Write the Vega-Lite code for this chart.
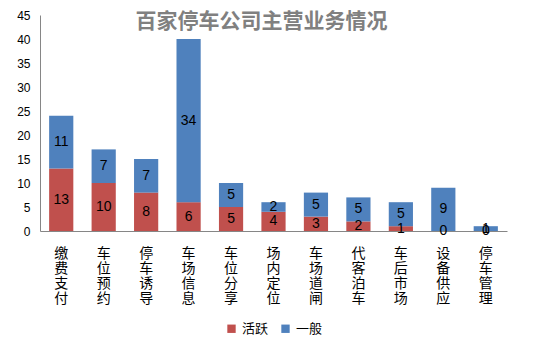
{
  "$schema": "https://vega.github.io/schema/vega-lite/v6.json",
  "autosize": "none",
  "width": 467,
  "height": 216,
  "padding": {"left": 40, "top": 15, "right": 34, "bottom": 120},
  "background": "white",
  "config": {"view": {"stroke": null}, "font": "Noto Sans CJK SC"},
  "title": {"text": "百家停车公司主营业务情况", "color": "#808080", "fontSize": 21, "fontWeight": "bold", "font": "Noto Sans CJK SC", "anchor": "middle", "offset": -23, "dx": -12},
  "data": {"values": [
    {"cat": "缴费支付", "type": "活跃", "ord": 1, "value": 13},
    {"cat": "缴费支付", "type": "一般", "ord": 2, "value": 11},
    {"cat": "车位预约", "type": "活跃", "ord": 1, "value": 10},
    {"cat": "车位预约", "type": "一般", "ord": 2, "value": 7},
    {"cat": "停车诱导", "type": "活跃", "ord": 1, "value": 8},
    {"cat": "停车诱导", "type": "一般", "ord": 2, "value": 7},
    {"cat": "车场信息", "type": "活跃", "ord": 1, "value": 6},
    {"cat": "车场信息", "type": "一般", "ord": 2, "value": 34},
    {"cat": "车位分享", "type": "活跃", "ord": 1, "value": 5},
    {"cat": "车位分享", "type": "一般", "ord": 2, "value": 5},
    {"cat": "场内定位", "type": "活跃", "ord": 1, "value": 4},
    {"cat": "场内定位", "type": "一般", "ord": 2, "value": 2},
    {"cat": "车场道闸", "type": "活跃", "ord": 1, "value": 3},
    {"cat": "车场道闸", "type": "一般", "ord": 2, "value": 5},
    {"cat": "代客泊车", "type": "活跃", "ord": 1, "value": 2},
    {"cat": "代客泊车", "type": "一般", "ord": 2, "value": 5},
    {"cat": "车后市场", "type": "活跃", "ord": 1, "value": 1},
    {"cat": "车后市场", "type": "一般", "ord": 2, "value": 5},
    {"cat": "设备供应", "type": "活跃", "ord": 1, "value": 0},
    {"cat": "设备供应", "type": "一般", "ord": 2, "value": 9},
    {"cat": "停车管理", "type": "活跃", "ord": 1, "value": 0},
    {"cat": "停车管理", "type": "一般", "ord": 2, "value": 1}
  ]},
  "transform": [
    {"stack": "value", "groupby": ["cat"], "sort": [{"field": "ord", "order": "ascending"}], "as": ["v0", "v1"]},
    {"calculate": "(datum.v0 + datum.v1) / 2", "as": "vmid"}
  ],
  "encoding": {
    "x": {"field": "cat", "type": "nominal", "sort": null,
      "scale": {"paddingInner": 0.43, "paddingOuter": 0.215},
      "axis": {"title": null, "labelAngle": 0, "labelExpr": "split(datum.label, '')", "labelFontSize": 14, "labelLineHeight": 15, "labelColor": "#000", "labelPadding": 15, "ticks": false, "domainColor": "#868686", "labelBaseline": "top", "labelOverlap": false}}
  },
  "layer": [
    {
      "mark": {"type": "bar"},
      "encoding": {
        "y": {"field": "v0", "type": "quantitative", "scale": {"domain": [0, 45], "nice": false},
          "axis": {"title": null, "tickCount": {"expr": "9"}, "labelOverlap": false, "grid": false, "ticks": false, "labelFontSize": 12, "labelColor": "#000", "labelPadding": 10, "domainColor": "#868686", "labelFont": "Liberation Sans"}},
        "y2": {"field": "v1"},
        "color": {"field": "type", "type": "nominal", "sort": ["活跃", "一般"],
          "scale": {"domain": ["活跃", "一般"], "range": ["#C0504D", "#4F81BD"]},
          "legend": {"title": null, "orient": "none", "direction": "horizontal", "legendX": 185, "legendY": 307, "symbolType": "square", "symbolSize": 70, "symbolStrokeWidth": 0, "labelFontSize": 13, "labelColor": "#000", "columnPadding": 10}}
      }
    },
    {
      "mark": {"type": "text", "fontSize": 14, "color": "#000", "font": "Liberation Sans"},
      "encoding": {
        "y": {"field": "vmid", "type": "quantitative", "scale": {"domain": [0, 45], "nice": false}, "axis": null},
        "text": {"field": "value", "type": "quantitative"}
      }
    }
  ],
  "resolve": {"axis": {"y": "independent"}}
}
